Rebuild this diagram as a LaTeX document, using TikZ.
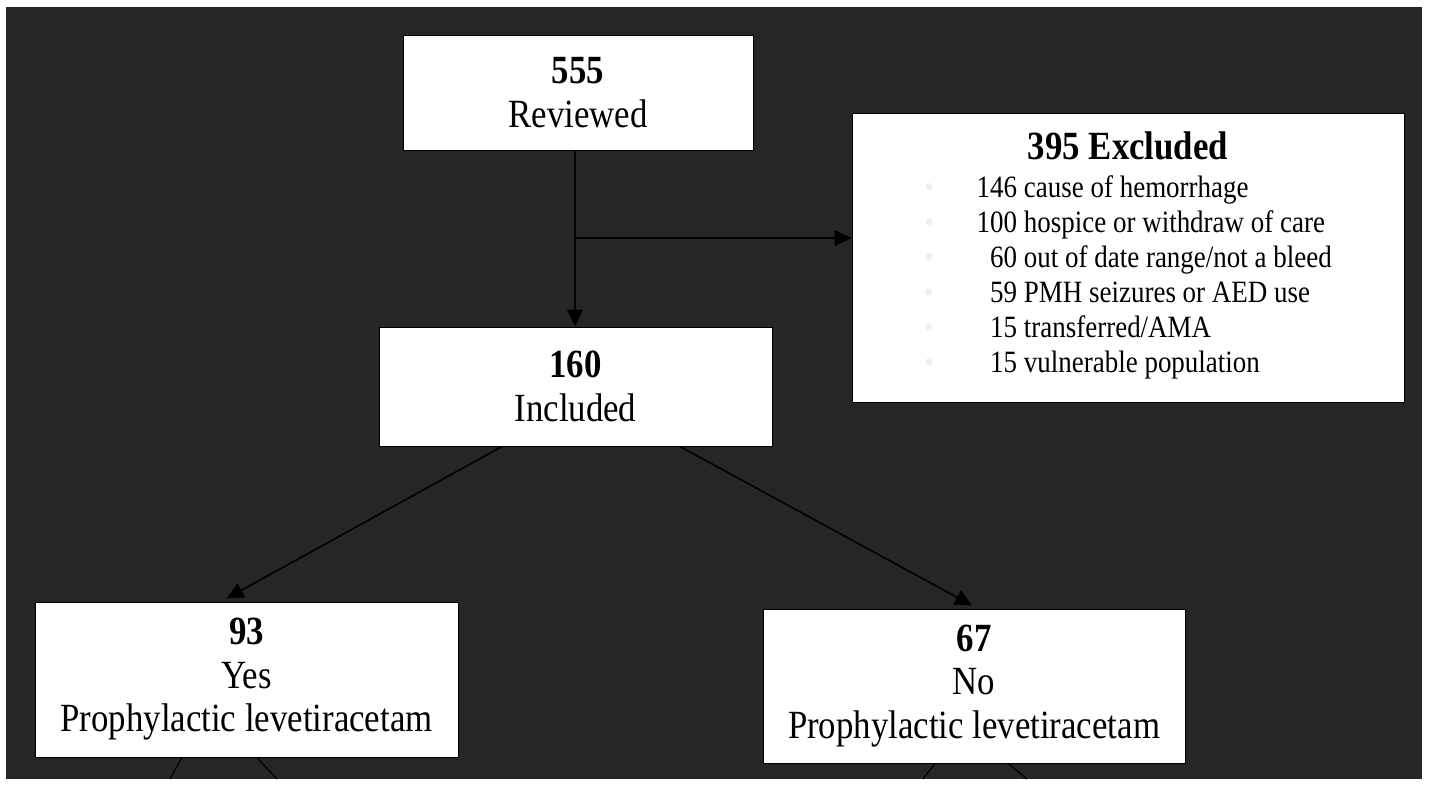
\documentclass[tikz,border=0pt]{standalone}
\usepackage{fontspec}
\setmainfont{Liberation Serif}[FakeStretch=0.87]
\usetikzlibrary{arrows.meta}
\definecolor{bgdark}{HTML}{262626}
\definecolor{dotgray}{HTML}{EFEFEF}
\newcommand{\exdot}{\textcolor{dotgray}{\textbullet}}

\begin{document}
\begin{tikzpicture}[x=1pt,y=-1pt,
    box/.style={draw=black,line width=1pt,fill=white,inner sep=0pt,align=center,font=\fontsize{40}{43.5}\selectfont},
    arr/.style={line width=1.6pt,-{Triangle[length=17pt,width=16pt]}},
    stub/.style={line width=1.2pt}]
    \fill[white](0,0) rectangle (1429,787);
    \fill[bgdark](6,7) rectangle (1422,779);

    \node[box,minimum width=350,minimum height=115] (rev) at(578,92.5){\textbf{555}\\Reviewed};
    \node[box,minimum width=393,minimum height=119] (inc) at(575.5,386.5){\textbf{160}\\Included};
    \node[box,minimum width=552,minimum height=289] (exc) at(1128,257.5){%
      \fontsize{31}{35}\selectfont
      \begin{tabular}{@{}c@{\hspace{43pt}}r@{ }l@{}}
        \multicolumn{3}{c}{\fontsize{40}{43.5}\selectfont\bfseries 395 Excluded}\\[3pt]
        \exdot&146&cause of hemorrhage\\
        \exdot&100&hospice or withdraw of care\\
        \exdot&60&out of date range/not a bleed\\
        \exdot&59&PMH seizures or AED use\\
        \exdot&15&transferred/AMA\\
        \exdot&15&vulnerable population
      \end{tabular}};
    \node[box,minimum width=423,minimum height=155] (yes) at(246.5,679.5){\textbf{93}\\Yes\\Prophylactic levetiracetam};
    \node[box,minimum width=422,minimum height=154] (no) at(974,686){\textbf{67}\\No\\Prophylactic levetiracetam};

    \coordinate (split) at(575,238);
    \draw[arr](rev.south -| split) -- (inc.north -| split);
    \draw[arr](split) -- (split -| exc.west);
    \draw[arr]([xshift=-73.5pt]inc.south) -- ([xshift=-20pt,yshift=3pt]yes.north);
    \draw[arr]([xshift=104.5pt]inc.south) -- ([xshift=-2pt,yshift=3pt]no.north);

    \coordinate (ya) at(170,779);
    \coordinate (yb) at(277,779);
    \coordinate (na) at(923,779);
    \coordinate (nb) at(1027,779);
    \draw[stub]([xshift=-64.5pt]yes.south) -- (ya);
    \draw[stub]([xshift=10.5pt]yes.south) -- (yb);
    \draw[stub]([xshift=-39pt]no.south) -- (na);
    \draw[stub]([xshift=34pt]no.south) -- (nb);
  \end{tikzpicture}
\end{document}
